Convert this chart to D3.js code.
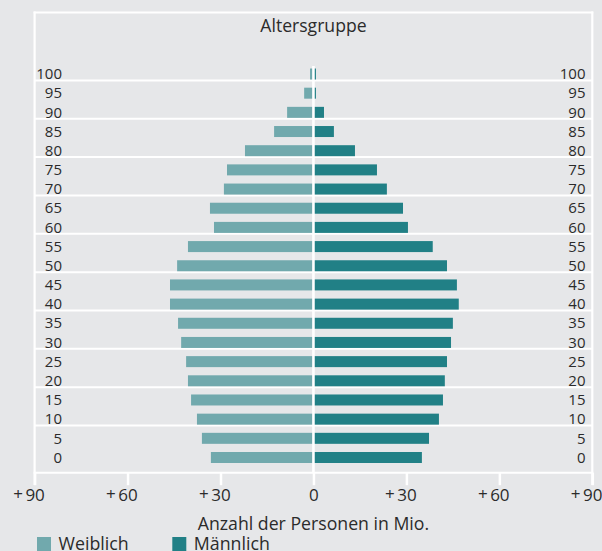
<!DOCTYPE html>
<html>
<head>
<meta charset="utf-8">
<script src="https://cdn.jsdelivr.net/npm/d3@7"></script>
<style>
  body { margin: 0; background: #e6e7e9; }
  svg { display: block; font-family: "Open Sans", sans-serif; }
</style>
</head>
<body>
<div id="chart"></div>
<script>
// Data
var ages = [100, 95, 90, 85, 80, 75, 70, 65, 60, 55, 50, 45, 40, 35, 30, 25, 20, 15, 10, 5, 0];
var female = [1.1, 3.0, 8.5, 12.7, 22.1, 27.9, 28.9, 33.4, 32.1, 40.5, 44.0, 46.3, 46.3, 43.7, 42.7, 41.1, 40.5, 39.5, 37.6, 36.0, 33.1];
var male = [0.8, 0.8, 3.4, 6.6, 13.4, 20.5, 23.7, 28.9, 30.5, 38.5, 43.1, 46.3, 46.9, 45.0, 44.4, 43.1, 42.4, 41.8, 40.5, 37.3, 35.0];
var xTicks = [-90, -60, -30, 0, 30, 60, 90];
var legendLabels = ["Weiblich", "Männlich"];

var svgWidth = 602;
var svgHeight = 551;

var colorFemale = "#71a9ad";
var colorMale = "#218086";
var textColor = "#2b2b2b";

var rows = ages.map(function (a, i) {
    return { age: a, female: female[i], male: male[i] };
});

var svg = d3.select("#chart")
    .append("svg")
    .attr("width", svgWidth)
    .attr("height", svgHeight);

// Scales
var xScale = d3.scaleLinear()
    .domain([-90, 90])
    .range([34.6, 592.3]);

var yScale = d3.scalePoint()
    .domain(ages)
    .range([74, 457.5]);

var barH = 11;
var axisY = 472.7;
var topY = 12.5;

// Frame and grid (white lines)
var frame = svg.append("g")
    .attr("stroke", "#fff")
    .attr("fill", "none");

frame.append("line")
    .attr("x1", xScale(-90) - 1).attr("x2", xScale(90) + 1)
    .attr("y1", topY).attr("y2", topY)
    .attr("stroke-width", 2);

frame.selectAll(".grid")
    .data(ages.filter(a => a % 10 === 0 && a > 0))
    .enter()
    .append("line")
    .attr("class", "grid")
    .attr("x1", xScale(-90)).attr("x2", xScale(90))
    .attr("y1", d => yScale(d) + 6.4)
    .attr("y2", d => yScale(d) + 6.4)
    .attr("stroke-width", 2);

// Bars
svg.selectAll(".female")
    .data(rows)
    .enter()
    .append("rect")
    .attr("class", "female")
    .attr("x", d => xScale(-d.female))
    .attr("y", d => yScale(d.age) - barH / 2)
    .attr("width", d => xScale(0) - xScale(-d.female))
    .attr("height", barH)
    .attr("fill", colorFemale);

svg.selectAll(".male")
    .data(rows)
    .enter()
    .append("rect")
    .attr("class", "male")
    .attr("x", xScale(0))
    .attr("y", d => yScale(d.age) - barH / 2)
    .attr("width", d => xScale(d.male) - xScale(0))
    .attr("height", barH)
    .attr("fill", colorMale);

// center line
svg.append("line")
    .attr("x1", xScale(0)).attr("x2", xScale(0))
    .attr("y1", 66).attr("y2", axisY)
    .attr("stroke", "#fff")
    .attr("stroke-width", 2.6);

// frame sides
svg.selectAll(".side")
    .data([-90, 90])
    .enter()
    .append("line")
    .attr("class", "side")
    .attr("x1", d => xScale(d)).attr("x2", d => xScale(d))
    .attr("y1", topY - 1).attr("y2", 485)
    .attr("stroke", "#fff")
    .attr("stroke-width", 2.2);

// Bottom axis
var bottomAxis = d3.axisBottom(xScale)
    .tickValues(xTicks)
    .tickSize(12.5)
    .tickSizeOuter(0)
    .tickFormat(d => Math.abs(d));

var axisG = svg.append("g")
    .attr("transform", `translate(0, ${axisY})`)
    .call(bottomAxis);

axisG.select(".domain")
    .attr("stroke", "#fff")
    .attr("stroke-width", 2)
    .attr("d", `M${xScale(-90) - 1},0H${xScale(90) + 1}`);

axisG.selectAll(".tick line")
    .attr("stroke", "#fff")
    .attr("stroke-width", 2.5);

axisG.selectAll(".tick text")
    .attr("fill", textColor)
    .attr("font-size", 17)
    .attr("font-family", "Open Sans, sans-serif")
    .attr("y", 28.8)
    .attr("dy", 0);

// "+" sign in front of non-zero tick numbers
axisG.selectAll(".tick")
    .filter(d => d !== 0)
    .each(function () {
        var t = d3.select(this).select("text");
        var w = t.node().getComputedTextLength();
        d3.select(this).append("text")
            .attr("x", -w / 2 - 2.5)
            .attr("y", 27.5)
            .attr("text-anchor", "end")
            .attr("fill", textColor)
            .attr("font-size", 17)
            .attr("font-family", "Open Sans, sans-serif")
            .text("+");
    });

// Age labels, both sides
svg.selectAll(".ageL")
    .data(ages)
    .enter()
    .append("text")
    .attr("class", "ageL")
    .attr("x", 62)
    .attr("y", d => yScale(d) + 5.2)
    .attr("text-anchor", "end")
    .attr("font-size", 15)
    .attr("fill", textColor)
    .text(d => d);

svg.selectAll(".ageR")
    .data(ages)
    .enter()
    .append("text")
    .attr("class", "ageR")
    .attr("x", 585.5)
    .attr("y", d => yScale(d) + 5.2)
    .attr("text-anchor", "end")
    .attr("font-size", 15)
    .attr("fill", textColor)
    .text(d => d);

// Titles
svg.append("text")
    .attr("x", xScale(0))
    .attr("y", 31.5)
    .attr("text-anchor", "middle")
    .attr("font-size", 17.6)
    .attr("fill", textColor)
    .text("Altersgruppe");

svg.append("text")
    .attr("x", xScale(0))
    .attr("y", 529.5)
    .attr("text-anchor", "middle")
    .attr("font-size", 17.7)
    .attr("fill", textColor)
    .text("Anzahl der Personen in Mio.");

// Legend
var legendX = [37, 172.3];
var legendColors = [colorFemale, colorMale];

var legend = svg.selectAll(".legend")
    .data(legendLabels)
    .enter()
    .append("g")
    .attr("class", "legend")
    .attr("transform", (d, i) => `translate(${legendX[i]}, 537)`);

legend.append("rect")
    .attr("width", 14)
    .attr("height", 14)
    .attr("fill", (d, i) => legendColors[i]);

legend.append("text")
    .attr("x", 21.5)
    .attr("y", 13)
    .attr("font-size", 17.8)
    .attr("fill", textColor)
    .text(d => d);
</script>
</body>
</html>
